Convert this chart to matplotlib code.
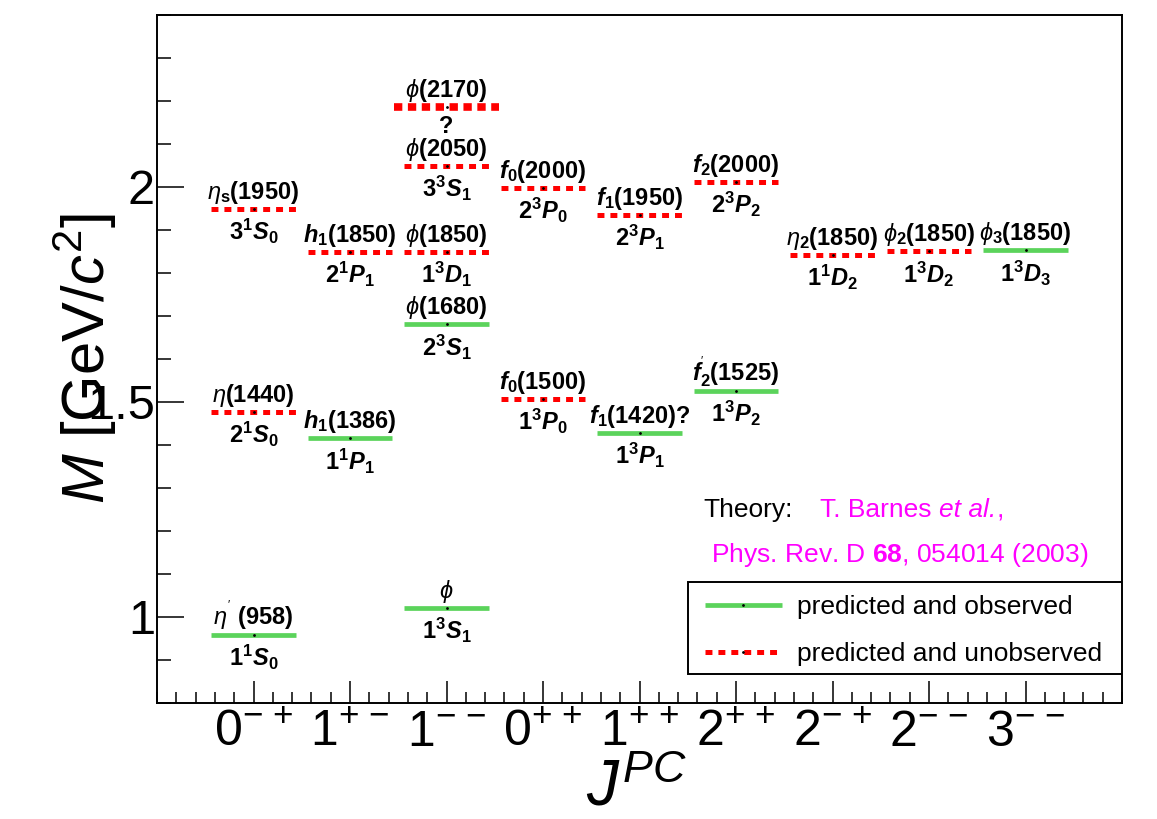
import matplotlib
matplotlib.use("Agg")
import matplotlib.pyplot as plt
from matplotlib.patches import Rectangle
from matplotlib.ticker import MultipleLocator, FixedLocator

plt.rcParams['font.family'] = ['Liberation Sans', 'DejaVu Sans']
plt.rcParams['mathtext.fontset'] = 'custom'
plt.rcParams['mathtext.rm'] = 'Liberation Sans'
plt.rcParams['mathtext.it'] = 'Liberation Sans:italic'
plt.rcParams['mathtext.bf'] = 'Liberation Sans:bold'
plt.rcParams['mathtext.bfit'] = 'Liberation Sans:italic:bold'
plt.rcParams['mathtext.sf'] = 'Liberation Sans'
plt.rcParams['lines.scale_dashes'] = False

# J^PC columns along x
jpc_pos = [1, 2, 3, 4, 5, 6, 7, 8, 9]
jpc_labels = [r"$0^{{-}\ {+}}$", r"$1^{{+}\ {-}}$", r"$1^{{-}\ {-}}$", r"$0^{{+}\ {+}}$",
              r"$1^{{+}\ {+}}$", r"$2^{{+}\ {+}}$", r"$2^{{-}\ {+}}$", r"$2^{{-}\ {-}}$",
              r"$3^{{-}\ {-}}$"]

# ss-bar states: column, mass [GeV/c^2], name, n^(2S+1)L_J, observed?
state_col = [1, 1, 1, 2, 2, 3, 3, 3, 3, 3, 4, 4, 5, 5, 6, 6, 7, 8, 9]
state_mass = [0.958, 1.477, 1.949, 1.416, 1.849, 1.021, 1.681, 1.849, 2.049, 2.186,
              1.507, 1.998, 1.428, 1.935, 1.526, 2.012, 1.842, 1.851, 1.853]
state_name = [r"$\eta^{^{\prime}}$ (958)", r"$\eta$(1440)", r"$\eta_\mathbf{s}$(1950)",
              r"$\mathbfit{h}_\mathbf{1}$(1386)", r"$\mathbfit{h}_\mathbf{1}$(1850)",
              r"$\phi$", r"$\phi$(1680)", r"$\phi$(1850)", r"$\phi$(2050)",
              r"$\phi$(2170)",
              r"$\mathbfit{f}_\mathbf{0}$(1500)", r"$\mathbfit{f}_\mathbf{0}$(2000)",
              r"$\mathbfit{f}_\mathbf{1}$(1420)?", r"$\mathbfit{f}_\mathbf{1}$(1950)",
              r"$\mathbfit{f}^{^{\prime}}_\mathbf{2}$(1525)", r"$\mathbfit{f}_\mathbf{2}$(2000)",
              r"$\eta_\mathbf{2}$(1850)", r"$\phi_\mathbf{2}$(1850)", r"$\phi_\mathbf{3}$(1850)"]
state_term = [r"1$^\mathbf{1}\mathbfit{S}_\mathbf{0}$", r"2$^\mathbf{1}\mathbfit{S}_\mathbf{0}$",
              r"3$^\mathbf{1}\mathbfit{S}_\mathbf{0}$",
              r"1$^\mathbf{1}\mathbfit{P}_\mathbf{1}$", r"2$^\mathbf{1}\mathbfit{P}_\mathbf{1}$",
              r"1$^\mathbf{3}\mathbfit{S}_\mathbf{1}$", r"2$^\mathbf{3}\mathbfit{S}_\mathbf{1}$",
              r"1$^\mathbf{3}\mathbfit{D}_\mathbf{1}$", r"3$^\mathbf{3}\mathbfit{S}_\mathbf{1}$",
              "?",
              r"1$^\mathbf{3}\mathbfit{P}_\mathbf{0}$", r"2$^\mathbf{3}\mathbfit{P}_\mathbf{0}$",
              r"1$^\mathbf{3}\mathbfit{P}_\mathbf{1}$", r"2$^\mathbf{3}\mathbfit{P}_\mathbf{1}$",
              r"1$^\mathbf{3}\mathbfit{P}_\mathbf{2}$", r"2$^\mathbf{3}\mathbfit{P}_\mathbf{2}$",
              r"1$^\mathbf{1}\mathbfit{D}_\mathbf{2}$", r"1$^\mathbf{3}\mathbfit{D}_\mathbf{2}$",
              r"1$^\mathbf{3}\mathbfit{D}_\mathbf{3}$"]
state_seen = [True, False, False, True, False, True, True, False, False, False,
              False, False, True, False, True, False, False, False, True]
# phi(2170) is drawn wider and heavier
state_wide = [i == 9 for i in range(len(state_col))]

GREEN = '#5bd35b'
RED = '#ff0000'
MAGENTA = '#ff00ff'

fig = plt.figure(figsize=(11.57, 8.19), dpi=100)
ax = fig.add_axes([157 / 1157, 1 - 703 / 819, 965 / 1157, 688 / 819])

handles = {}
for c, m, name, term, seen, wide in zip(state_col, state_mass, state_name,
                                        state_term, state_seen, state_wide):
    half = 0.545 if wide else 0.44
    xs = [c - half, c, c + half]
    if seen:
        ln, = ax.plot(xs, [m, m, m], color=GREEN, lw=3.4, solid_capstyle='butt',
                      marker='.', ms=2, mfc='k', mec='k', markevery=[1])
    else:
        ln, = ax.plot(xs, [m, m, m], color=RED, lw=5.5 if wide else 3.6,
                      dashes=(6, 4) if wide else (5, 4.3), dash_capstyle='butt',
                      marker='.', ms=2, mfc='k', mec='k', markevery=[1])
    if not wide:
        handles.setdefault(seen, ln)
    ax.annotate(name, (c, m), xytext=(0, 7), textcoords='offset points',
                ha='center', va='baseline', fontsize=17, fontweight='bold')
    ax.annotate(term, (c, m), xytext=(0, -6), textcoords='offset points',
                ha='center', va='top', fontsize=17, fontweight='bold')

ax.set_xlim(0, 10)
ax.set_ylim(0.8, 2.4)

ax.xaxis.set_major_locator(FixedLocator(jpc_pos))
ax.set_xticklabels(jpc_labels)
ax.xaxis.set_minor_locator(MultipleLocator(0.2))
ax.yaxis.set_major_locator(FixedLocator([1.0, 1.5, 2.0]))
ax.set_yticklabels(["1", "1.5", "2"])
ax.yaxis.set_minor_locator(MultipleLocator(0.1))

ax.tick_params(axis='x', which='both', direction='in', top=False, width=1.1,
               labelsize=36, pad=5)
ax.tick_params(axis='x', which='major', length=16)
ax.tick_params(axis='x', which='minor', length=8)
ax.tick_params(axis='y', which='both', direction='in', right=False, width=1.1,
               labelsize=35, pad=1.5)
ax.tick_params(axis='y', which='major', length=19.5)
ax.tick_params(axis='y', which='minor', length=10)
for sp in ax.spines.values():
    sp.set_linewidth(1.4)

ax.set_xlabel(r"$J^{PC}$", fontsize=46)
ax.xaxis.set_label_coords(0.497, -0.08)
ax.set_ylabel(r"$M$ [GeV/$c^2$]", fontsize=43)
ax.yaxis.set_label_coords(-0.039, 0.5)

# reference note, pieces chained so the italic part sits flush
ax.text(0.566, 0.2805, "Theory:", transform=ax.transAxes, fontsize=19,
        ha='left', va='center')
t1 = ax.text(0.687, 0.2805, "T. Barnes ", transform=ax.transAxes,
             fontsize=19, color=MAGENTA, ha='left', va='center')
t2 = ax.annotate("et al.", xy=(1, 0), xycoords=t1, fontsize=19, color=MAGENTA,
                 fontstyle='italic', ha='left', va='bottom')
ax.annotate(",", xy=(1, 0), xycoords=t2, fontsize=19, color=MAGENTA,
            ha='left', va='bottom')
ax.text(0.574, 0.215, r"Phys. Rev. D $\mathbf{68}$, 054014 (2003)",
        transform=ax.transAxes, fontsize=19, color=MAGENTA, ha='left', va='center')

# legend box drawn separately so its padding can be set freely
ax.add_patch(Rectangle((0.550, 0.042), 0.45, 0.134, transform=ax.transAxes,
                       facecolor='white', edgecolor='black', lw=1.4, zorder=4.5))
ax.legend([handles[True], handles[False]],
          ["predicted and observed", "predicted and unobserved"],
          loc='upper left', bbox_to_anchor=(0.568, 0.157), borderaxespad=0,
          borderpad=0, frameon=False, fontsize=19, handlelength=2.9,
          handletextpad=0.6, labelspacing=0.88, numpoints=1)

fig.savefig("out.png", dpi=100)
